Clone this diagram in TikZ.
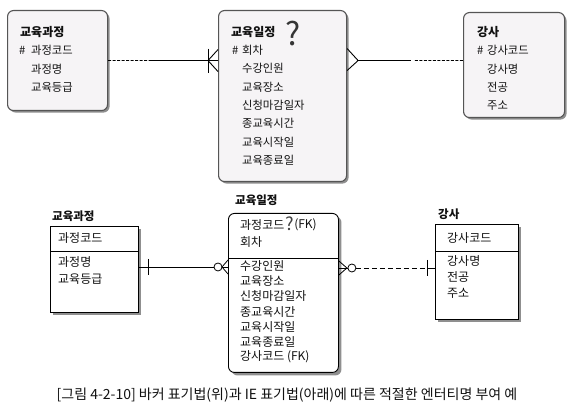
\documentclass[tikz,border=0pt]{standalone}
\usepackage{fontspec}
\setmainfont{Noto Sans CJK KR}
\usetikzlibrary{arrows.meta, calc, positioning, shadows}
\definecolor{cardfill}{HTML}{F6F4F6}
\definecolor{edgegray}{HTML}{555555}
\definecolor{shadegray}{HTML}{8F8F8F}
\definecolor{inkblack}{HTML}{111111}

\begin{document}
\begin{tikzpicture}[x=1pt, y=-1pt,
  barker/.style={draw=edgegray, fill=cardfill, line width=1.1pt, rounded corners=6pt,
    inner sep=0pt, anchor=north west,
    drop shadow={shadow xshift=2pt, shadow yshift=-2pt, fill=shadegray, opacity=1}},
  iebox/.style={draw=black, fill=white, line width=0.9pt, inner sep=0pt, anchor=north west,
    drop shadow={shadow xshift=3pt, shadow yshift=-3pt, fill=shadegray, opacity=1}},
  btitle/.style={anchor=west, inner sep=0pt, text=inkblack, font=\fontsize{12}{12}\selectfont\bfseries},
  battr/.style={anchor=west, inner sep=0pt, text=inkblack, font=\fontsize{11.3}{11.3}\selectfont},
  ietitle/.style={anchor=west, inner sep=0pt, text=inkblack, font=\fontsize{11.5}{11.5}\selectfont\bfseries},
  ieattr/.style={anchor=west, inner sep=0pt, text=inkblack, font=\fontsize{12}{12}\selectfont},
  mandline/.style={black, line width=0.9pt},
  optline/.style={black, line width=0.9pt, dash pattern=on 3pt off 1.5pt},
  ieline/.style={black, line width=0.8pt},
  iedash/.style={black, line width=0.8pt, dash pattern=on 5pt off 3pt}]

\useasboundingbox (0,0) rectangle (571,411);

% ===== Barker notation (top) =====

% --- 교육과정 ---
\node[barker, minimum width=100pt, minimum height=100pt] (bcourse) at (7,10) {};
\node[btitle] (bcourse-t) at (20,32) {교육과정};
\node[battr] (bcourse-h) at (19,50) {\#};
\node[battr] (bcourse-1) at (31,50) {과정코드};
\node[battr] (bcourse-2) at (31,69) {과정명};
\node[battr] (bcourse-3) at (31,87) {교육등급};

% --- 교육일정 ---
\node[barker, minimum width=128pt, minimum height=171pt] (bsched) at (218,10) {};
\node[btitle] (bsched-t) at (231,32) {교육일정};
\node[text=inkblack!85, inner sep=0pt, font=\fontsize{32}{32}\selectfont] (bsched-q) at (293,34) {?};
\node[battr] (bsched-h) at (232,50) {\#};
\node[battr] (bsched-0) at (242,50) {회차};
\foreach \attr [count=\i] in {수강인원, 교육장소, 신청마감일자, 종교육시간, 교육시작일, 교육종료일} {
  \node[battr] (bsched-\i) at (242,{50+18.4*\i}) {\attr};
}

% --- 강사 ---
\node[barker, minimum width=101pt, minimum height=105pt] (binstr) at (463,12) {};
\node[btitle] (binstr-t) at (477,32) {강사};
\node[battr] (binstr-h) at (477,50) {\#};
\node[battr] (binstr-1) at (487,50) {강사코드};
\node[battr] (binstr-2) at (487,69) {강사명};
\node[battr] (binstr-3) at (487,87) {전공};
\node[battr] (binstr-4) at (487,106) {주소};

% --- relationships ---
\coordinate (c1) at (bsched.west |- bcourse.east);
\coordinate (j1) at ($(bcourse.east)!0.39!(c1)$);
\draw[optline] (bcourse.east) -- (j1);
\draw[mandline] (j1) -- (c1);
\draw[mandline] ($(c1)+(-10,-12)$) -- ++(0,24);
\draw[mandline] ($(c1)+(0,-11)$) -- ($(c1)+(-10,0)$) -- ($(c1)+(0,11)$);

\coordinate (c2) at (bsched.east |- bcourse.east);
\coordinate (c3) at (binstr.west |- bcourse.east);
\coordinate (j2) at ($(c2)!0.55!(c3)$);
\draw[mandline] ($(c2)+(0,-12)$) -- ($(c2)+(11,0)$) -- ($(c2)+(0,10)$);
\draw[mandline] ($(c2)+(11,0)$) -- (j2);
\draw[optline] ($(j2)+(4,0)$) -- (c3);

% ===== IE notation (bottom) =====

% --- 교육과정 ---
\node[iebox, minimum width=88pt, minimum height=86pt] (icourse) at (50,226) {};
\node[ietitle] (icourse-t) at (52,216) {교육과정};
\draw[ieline] (icourse.west |- 0,251) -- (icourse.east |- 0,251);
\node[ieattr] (icourse-1) at (58,238) {과정코드};
\node[ieattr] (icourse-2) at (58,262) {과정명};
\node[ieattr] (icourse-3) at (58,279) {교육등급};

% --- 교육일정 ---
\node[iebox, rounded corners=6pt, minimum width=110pt, minimum height=159pt] (isched) at (228,213) {};
\node[ietitle] (isched-t) at (235,200) {교육일정};
\draw[ieline] (isched.west |- 0,258) -- (isched.east |- 0,258);
\node[ieattr] (isched-a) at (240,225) {과정코드};
\node[text=inkblack!80, inner sep=0pt, font=\fontsize{18}{18}\selectfont\itshape, right=0.3pt of isched-a, yshift=1pt] (isched-q) {?};
\node[ieattr, right=0.3pt of isched-q, yshift=-1pt] (isched-fk) {(FK)};
\node[ieattr] (isched-0) at (240,242) {회차};
\foreach \attr [count=\i] in {수강인원, 교육장소, 신청마감일자, 종교육시간, 교육시작일, 교육종료일, 강사코드 (FK)} {
  \node[ieattr] (isched-\i) at (240,{250.8+15.2*\i}) {\attr};
}

% --- 강사 ---
\node[iebox, minimum width=83pt, minimum height=95pt] (iinstr) at (435,224) {};
\node[ietitle] (iinstr-t) at (438,214) {강사};
\draw[ieline] (iinstr.west |- 0,251) -- (iinstr.east |- 0,251);
\node[ieattr] (iinstr-1) at (447,238) {강사코드};
\node[ieattr] (iinstr-2) at (447,261) {강사명};
\node[ieattr] (iinstr-3) at (447,277) {전공};
\node[ieattr] (iinstr-4) at (447,293) {주소};

% --- relationships ---
\coordinate (d1) at (icourse.east |- 0,267);
\coordinate (d2) at (isched.west |- d1);
\draw[ieline] (d1) -- ($(d2)+(-14,0)$);
\draw[ieline] ($(d2)+(-6,0)$) -- (d2);
\draw[ieline] ($(d1)+(9,-8)$) -- ++(0,16);
\draw[ieline] ($(d2)+(-10,0)$) circle (4);
\draw[ieline] ($(d2)+(0,-7)$) -- ($(d2)+(-6,0)$) -- ($(d2)+(0,7)$);

\coordinate (d3) at (isched.east |- 0,268);
\coordinate (d4) at (iinstr.west |- d3);
\draw[ieline] ($(d3)+(0,-7)$) -- ($(d3)+(8,0)$) -- ($(d3)+(0,7)$);
\draw[ieline] (d3) -- ($(d3)+(9,0)$);
\draw[ieline] ($(d3)+(13,0)$) circle (4);
\draw[iedash] ($(d3)+(17,0)$) -- ($(d4)+(-8,0)$);
\draw[ieline] ($(d4)+(-8,0)$) -- (d4);
\draw[ieline] ($(d4)+(-8,-8)$) -- ++(0,16);

% --- caption ---
\node[inner sep=0pt, text=inkblack, font=\fontsize{14}{14}\selectfont] (caption) at (287,395)
  {[그림 4-2-10] 바커 표기법(위)과 IE 표기법(아래)에 따른 적절한 엔터티명 부여 예};

\end{tikzpicture}
\end{document}
